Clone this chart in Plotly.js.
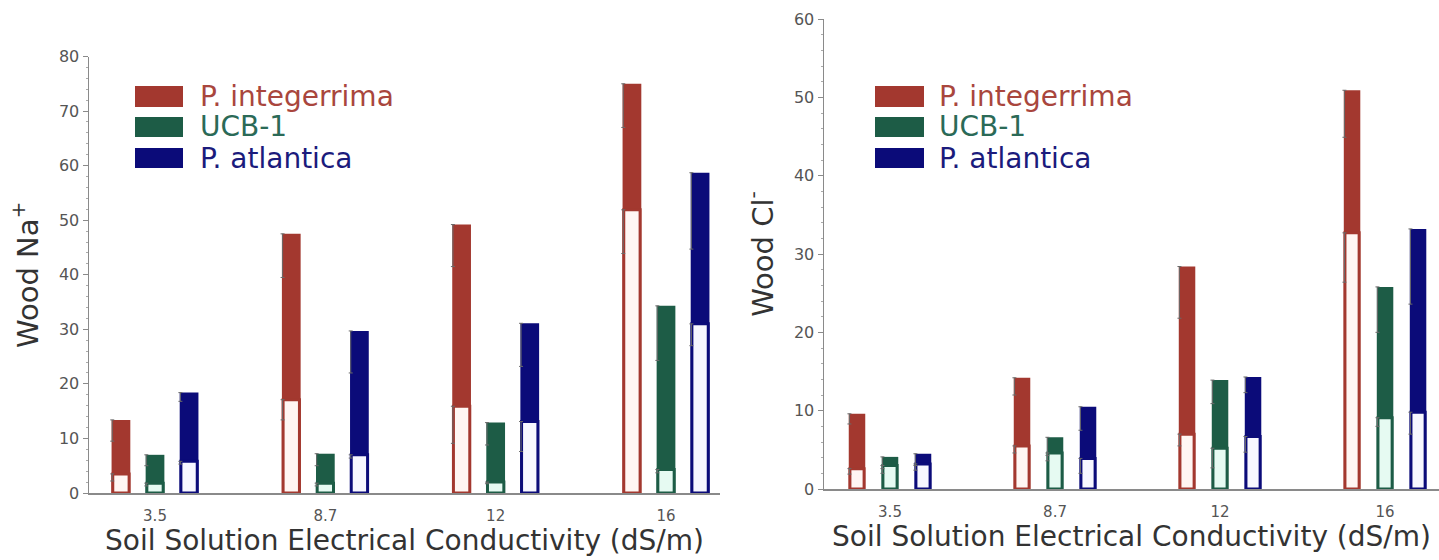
<!DOCTYPE html>
<html>
<head>
<meta charset="utf-8">
<script src="https://cdn.plot.ly/plotly-3.0.1.min.js"></script>
<style>
html, body { margin: 0; padding: 0; background: #ffffff; }
#chart { width: 1439px; height: 560px; }
</style>
</head>
<body>
<div id="chart"></div>
<script>
// ---------- data ----------
const ecLabels = ['3.5', '8.7', '12', '16'];            // soil solution EC (dS/m)
const speciesNames = ['P. integerrima', 'UCB-1', 'P. atlantica'];

// Wood Na+ : filled bar (total) and open (white) bar inside it
const naIntegerrima      = [13.4, 47.5, 49.2, 75.0];
const naIntegerrimaOpen  = [3.5, 17.1, 15.9, 51.9];
const naUCB1             = [7.0, 7.2, 12.9, 34.3];
const naUCB1Open         = [1.8, 1.8, 2.0, 4.3];
const naAtlantica        = [18.4, 29.7, 31.1, 58.7];
const naAtlanticaOpen    = [5.8, 7.0, 13.1, 31.0];
// Na+ standard errors (lower whisker along the bar's left edge)
const naIntegerrimaErr     = [3.9, 8.0, 7.7, 8.0];
const naIntegerrimaOpenErr = [1.3, 3.7, 6.8, 8.0];
const naUCB1Err            = [2.0, 2.2, 4.1, 10.0];
const naUCB1OpenErr        = [0.5, 0.5, 0.3, 0.6];
const naAtlanticaErr       = [1.6, 7.7, 7.9, 14.0];
const naAtlanticaOpenErr   = [0.5, 0.6, 5.5, 4.0];

// Wood Cl- : filled bar (total) and open (white) bar inside it
const clIntegerrima      = [9.6, 14.2, 28.4, 50.9];
const clIntegerrimaOpen  = [2.6, 5.5, 7.0, 32.7];
const clUCB1             = [4.1, 6.6, 13.9, 25.8];
const clUCB1Open         = [3.0, 4.6, 5.2, 9.1];
const clAtlantica        = [4.5, 10.5, 14.3, 33.2];
const clAtlanticaOpen    = [3.2, 3.9, 6.7, 9.8];
// Cl- standard errors
const clIntegerrimaErr     = [1.3, 2.2, 6.6, 6.0];
const clIntegerrimaOpenErr = [0.7, 0.9, 1.5, 6.3];
const clUCB1Err            = [1.5, 2.3, 3.0, 5.8];
const clUCB1OpenErr        = [1.0, 1.0, 2.5, 1.1];
const clAtlanticaErr       = [1.5, 3.0, 2.0, 9.6];
const clAtlanticaOpenErr   = [0.8, 1.9, 2.0, 2.8];

// ---------- styling ----------
const barColors   = ['#a3382f', '#1d5c46', '#0b0b79'];
const openFills   = ['#fff6f3', '#e6faf2', '#f7f7ff'];
const legendTextColors = ['#a9463d', '#2b6a57', '#1b1b7c'];
const offsets = [-0.2, 0, 0.2];
const FONT = 'DejaVu Sans, Liberation Sans, Arial, sans-serif';

const cats = ecLabels.map((_, i) => i);
const traces = [];

function addSpecies(xa, ya, k, totals, opens, totErr, openErr, w) {
  const off = offsets[k];
  traces.push({
    type: 'bar', x: cats, y: totals, xaxis: xa, yaxis: ya,
    offset: off - w / 2, width: w,
    marker: { color: barColors[k], line: { width: 0 } },
    name: speciesNames[k], showlegend: false, hoverinfo: 'y'
  });
  const wi = w - 0.014;
  traces.push({
    type: 'bar', x: cats, y: opens, xaxis: xa, yaxis: ya,
    offset: off - wi / 2, width: wi,
    marker: { color: openFills[k], line: { color: barColors[k], width: 3 } },
    name: speciesNames[k] + ' (open)', showlegend: false, hoverinfo: 'y'
  });
  const ex = cats.map(i => i + off - w / 2 + 0.004);
  [[totals, totErr], [opens, openErr]].forEach(([vals, errs]) => {
    traces.push({
      type: 'scatter', mode: 'markers', x: ex, y: vals, xaxis: xa, yaxis: ya,
      marker: { size: 1, opacity: 0 },
      error_y: { type: 'data', symmetric: false, array: vals.map(() => 0), arrayminus: errs,
                 color: '#6a6a6a', thickness: 1, width: 2 },
      showlegend: false, hoverinfo: 'skip'
    });
  });
}

addSpecies('x', 'y', 0, naIntegerrima, naIntegerrimaOpen, naIntegerrimaErr, naIntegerrimaOpenErr, 0.11);
addSpecies('x', 'y', 1, naUCB1, naUCB1Open, naUCB1Err, naUCB1OpenErr, 0.11);
addSpecies('x', 'y', 2, naAtlantica, naAtlanticaOpen, naAtlanticaErr, naAtlanticaOpenErr, 0.11);
addSpecies('x2', 'y2', 0, clIntegerrima, clIntegerrimaOpen, clIntegerrimaErr, clIntegerrimaOpenErr, 0.1);
addSpecies('x2', 'y2', 1, clUCB1, clUCB1Open, clUCB1Err, clUCB1OpenErr, 0.1);
addSpecies('x2', 'y2', 2, clAtlantica, clAtlanticaOpen, clAtlanticaErr, clAtlanticaOpenErr, 0.1);

// ---------- layout ----------
const W = 1439, H = 560;
const px = v => v / W;
const py = v => 1 - v / H;

function xAxis(domain, range, anchor) {
  return {
    domain: domain, range: range, anchor: anchor,
    tickvals: cats, ticktext: ecLabels, ticks: '',
    showline: true, linecolor: '#8a8a8a', linewidth: 1.5,
    showgrid: false, zeroline: false, automargin: false,
    tickfont: { family: FONT, size: 15, color: '#555555' },
    ticklabelstandoff: 8,
    title: { text: 'Soil Solution Electrical Conductivity (dS/m)',
             font: { family: FONT, size: 28, color: '#333333' }, standoff: 4 }
  };
}
function yAxis(domain, range, anchor, titleText) {
  return {
    domain: domain, range: range, anchor: anchor, dtick: 10,
    ticks: 'outside', ticklen: 5, tickcolor: '#8a8a8a', tickwidth: 1,
    minor: { dtick: 2, ticks: 'outside', ticklen: 2, tickcolor: '#aaaaaa' },
    showline: true, linecolor: '#8a8a8a', linewidth: 1.5,
    showgrid: false, zeroline: false, automargin: false,
    tickfont: { family: FONT, size: 16, color: '#555555' },
    title: { text: titleText, font: { family: FONT, size: 29, color: '#333333' }, standoff: 12 }
  };
}

const shapes = [];
const annotations = [];
const legendRows = [[86, 107], [117, 137], [148, 168]];
[[135, 183, 198], [875, 924, 937]].forEach(([x0, x1, tx]) => {
  speciesNames.forEach((nm, k) => {
    const [ya, yb] = legendRows[k];
    shapes.push({ type: 'rect', xref: 'paper', yref: 'paper',
      x0: px(x0), x1: px(x1), y0: py(yb), y1: py(ya),
      fillcolor: barColors[k], line: { width: 0 } });
    annotations.push({ xref: 'paper', yref: 'paper', x: px(tx), y: py((ya + yb) / 2),
      xanchor: 'left', yanchor: 'middle', showarrow: false, text: nm,
      font: { family: FONT, size: 28, color: legendTextColors[k] } });
  });
});

const layout = {
  width: W, height: H,
  margin: { l: 0, r: 0, t: 0, b: 0, pad: 0 },
  paper_bgcolor: '#ffffff', plot_bgcolor: '#ffffff',
  barmode: 'overlay', showlegend: false,
  xaxis: xAxis([px(89), px(720)], [-0.3875, 3.317], 'y'),
  yaxis: yAxis([1 - 493 / H, 1 - 56.5 / H], [0, 80], 'x', 'Wood Na<sup>+</sup>'),
  xaxis2: xAxis([px(824), 1], [-0.40, 3.327], 'y2'),
  yaxis2: yAxis([1 - 489 / H, 1 - 19 / H], [0, 60], 'x2', 'Wood Cl<sup>-</sup>'),
  shapes: shapes, annotations: annotations
};

Plotly.newPlot('chart', traces, layout, { staticPlot: true, displayModeBar: false });
</script>
</body>
</html>
